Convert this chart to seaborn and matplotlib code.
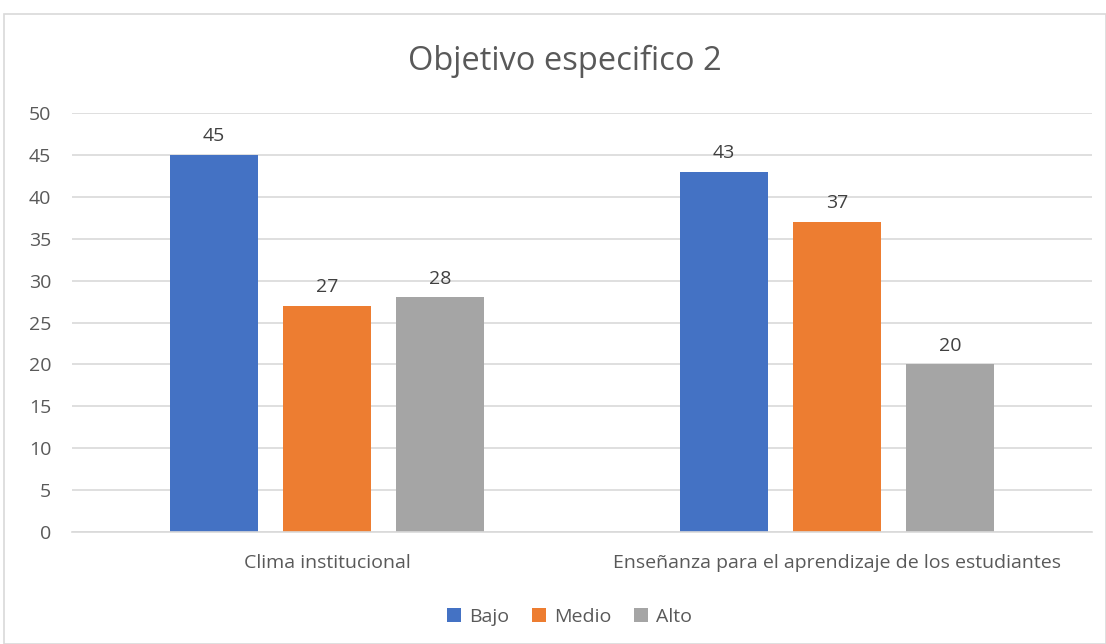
import numpy as np
import pandas as pd
import seaborn as sns
import matplotlib.pyplot as plt
from matplotlib.patches import Rectangle

categories = ['Clima institucional', 'Enseñanza para el aprendizaje de los estudiantes']
levels = ['Bajo', 'Medio', 'Alto']
bajo = [45, 43]
medio = [27, 37]
alto = [28, 20]
colors = ['#4472C4', '#ED7D31', '#A5A5A5']

df = pd.DataFrame({
    'categoria': categories * 3,
    'nivel': [l for l in levels for _ in categories],
    'valor': bajo + medio + alto,
})

sns.set_style('white')
plt.rcParams['font.family'] = ['Open Sans', 'DejaVu Sans']

fig = plt.figure(figsize=(11.06, 6.44), dpi=100)
ax = fig.add_axes([0.0651, 0.1739, 0.922, 0.6506])

sns.barplot(data=df, x='categoria', y='valor', hue='nivel', hue_order=levels,
            palette=colors, width=0.665, gap=0.22, ax=ax, legend=True,
            saturation=1, edgecolor='none')

ax.set_ylim(0, 50)
ax.set_yticks(np.arange(0, 51, 5))
ax.yaxis.grid(True, color='#D9D9D9', linewidth=1.2)
ax.set_axisbelow(True)
for s in ['top', 'right', 'left']:
    ax.spines[s].set_visible(False)
ax.spines['bottom'].set_color('#D9D9D9')
ax.spines['bottom'].set_linewidth(1.2)
ax.tick_params(axis='both', length=0, labelsize=14, labelcolor='#595959')
ax.tick_params(axis='y', pad=15)
ax.tick_params(axis='x', pad=16)
ax.set_xlabel('')
ax.set_ylabel('')

for c in ax.containers:
    ax.bar_label(c, fmt='%d', padding=7, fontsize=14, color='#404040')

fig.text(0.511, 0.905, 'Objetivo especifico 2', ha='center', va='center',
         fontsize=23.5, color='#595959')

ax.legend(loc='center', bbox_to_anchor=(0.515, 1 - 617 / 644), bbox_transform=fig.transFigure,
          ncol=3, frameon=False, fontsize=14, handlelength=0.7, handleheight=0.7,
          handletextpad=0.4, columnspacing=1.2, labelcolor='#595959')

fig.patches.append(Rectangle((4 / 1106, 0), 1 - 4 / 1106, 1 - 14 / 644,
                             transform=fig.transFigure, fill=False,
                             edgecolor='#D9D9D9', linewidth=1.2))

fig.savefig('out.png', dpi=100)
